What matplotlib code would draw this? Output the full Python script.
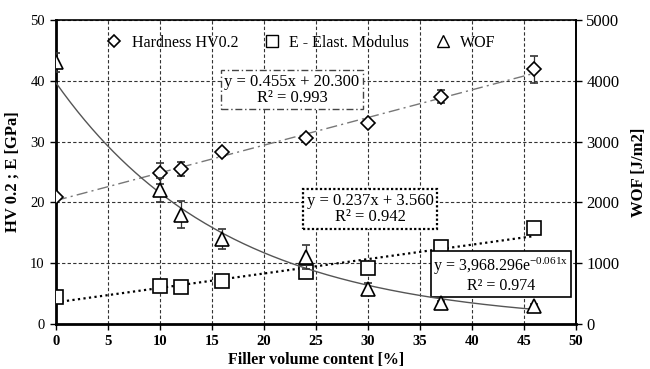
import numpy as np
import matplotlib
matplotlib.use("Agg")
import matplotlib.pyplot as plt
from matplotlib.lines import Line2D

plt.rcParams['font.family'] = ['Liberation Serif', 'DejaVu Serif']
plt.rcParams['mathtext.fontset'] = 'custom'
plt.rcParams['mathtext.rm'] = 'Liberation Serif'
plt.rcParams['mathtext.it'] = 'Liberation Serif'
plt.rcParams['font.size'] = 12

# Filler volume content [%]
filler = [0, 10, 12, 16, 24, 30, 37, 46]

# Hardness HV0.2 with error
hardness = [20.8, 24.8, 25.5, 28.2, 30.6, 33.1, 37.4, 41.9]
hardness_err = [0.3, 1.7, 1.2, 0.6, 0.5, 0.5, 1.0, 2.2]

# E - Elastic modulus [GPa] with error
modulus = [4.5, 6.2, 6.1, 7.0, 8.6, 9.2, 12.6, 15.8]
modulus_err = [0.3, 0.5, 0.5, 0.4, 0.6, 0.5, 0.5, 0.4]

# Work of fracture [J/m2] with error
wof = [4300, 2200, 1800, 1400, 1100, 580, 340, 300]
wof_err = [150, 200, 220, 170, 200, 90, 40, 30]

# Trend line coefficients
hv_slope, hv_icpt = 0.455, 20.300
e_slope, e_icpt = 0.237, 3.560
wof_a, wof_b = 3968.296, -0.061

fig = plt.figure(figsize=(6.5, 3.69), dpi=100)
ax = fig.add_axes([0.086, 0.122, 0.8, 0.824])
ax2 = ax.twinx()

ax.set_xlim(0, 50)
ax.set_ylim(0, 50)
ax2.set_ylim(0, 5000)

ax.set_xticks(np.arange(0, 51, 5))
ax.set_yticks(np.arange(0, 51, 10))
ax2.set_yticks(np.arange(0, 5001, 1000))

ax.grid(True, which='major', color='#333333', linestyle=(0, (3, 2)), linewidth=0.8)
ax.set_axisbelow(True)

# Trend lines
xs = np.linspace(0, 46, 200)
ax.plot(xs, hv_slope * xs + hv_icpt, color='#777777', lw=1.0,
        linestyle=(0, (8, 3, 1.5, 3)), zorder=2)
ax.plot(xs, e_slope * xs + e_icpt, color='black', lw=1.6,
        linestyle=(0, (1, 1.5)), zorder=2)
ax2.plot(xs, wof_a * np.exp(wof_b * xs), color='#555555', lw=1.0, zorder=2)

mk = dict(markerfacecolor='white', markeredgecolor='black', markeredgewidth=1.2,
          linestyle='none', ecolor='#333333', elinewidth=0.9, capsize=3, capthick=0.9)
ax.errorbar(filler, hardness, yerr=hardness_err, marker='D', markersize=7, zorder=4, **mk)
ax.errorbar(filler, modulus, yerr=modulus_err, marker='s', markersize=9.5, zorder=4, **mk)
ax2.errorbar(filler, wof, yerr=wof_err, marker='^', markersize=10, zorder=4, **mk)

# Spines
for side in ('left', 'bottom'):
    ax.spines[side].set_linewidth(2.0)
for side in ('top', 'right'):
    ax.spines[side].set_linewidth(1.2)
ax2.spines['right'].set_linewidth(1.2)
ax2.spines['left'].set_visible(False)
ax2.spines['bottom'].set_visible(False)
ax2.spines['top'].set_visible(False)

ax.tick_params(axis='both', direction='out', length=4, width=1.0, labelsize=10.5, pad=4)
ax2.tick_params(axis='y', direction='out', length=4, width=1.0, labelsize=12)
for lab in ax.get_xticklabels():
    lab.set_fontweight('bold')

ax.set_xlabel('Filler volume content [%]', fontweight='bold', fontsize=11.5, labelpad=3)
ax.set_ylabel('HV 0.2 ; E [GPa]', fontweight='bold', fontsize=12, labelpad=7)
ax2.set_ylabel('WOF [J/m2]', fontweight='bold', fontsize=12, labelpad=8)

# Equation boxes
ax.text(22.7, 38.5, 'y = 0.455x + 20.300\nR² = 0.993', ha='center', va='center',
        multialignment='center', fontsize=12, linespacing=1.05, zorder=5,
        bbox=dict(boxstyle='square,pad=0.2', facecolor='white', edgecolor='#444444',
                  linestyle=(0, (5, 2, 1, 2)), linewidth=1.0))
ax.text(30.2, 18.9, 'y = 0.237x + 3.560\nR² = 0.942', ha='center', va='center',
        multialignment='center', fontsize=12, linespacing=1.05, zorder=5,
        bbox=dict(boxstyle='square,pad=0.2', facecolor='white', edgecolor='black',
                  linestyle=(0, (1, 1)), linewidth=1.6))
ax.text(42.8, 8.1, 'y = 3,968.296e$^{\\mathrm{-0.061x}}$\nR² = 0.974', ha='center', va='center',
        multialignment='center', fontsize=11.5, linespacing=1.05, zorder=5,
        bbox=dict(boxstyle='square,pad=0.18', facecolor='white', edgecolor='black',
                  linewidth=1.2))

# Legend
handles = [
    Line2D([], [], marker='D', markersize=6, markerfacecolor='white', markeredgecolor='black',
           markeredgewidth=1.2, linestyle='none', label='Hardness HV0.2'),
    Line2D([], [], marker='s', markersize=8, markerfacecolor='white', markeredgecolor='black',
           markeredgewidth=1.0, linestyle='none', label='E - Elast. Modulus'),
    Line2D([], [], marker='^', markersize=8, markerfacecolor='white', markeredgecolor='black',
           markeredgewidth=1.0, linestyle='none', label='WOF'),
]
leg = ax2.legend(handles=handles, loc='center', bbox_to_anchor=(0.471, 0.924), ncol=3,
                 frameon=False, fontsize=11.5, handlelength=1.0, handletextpad=0.6,
                 columnspacing=1.6)

fig.savefig('out.png', dpi=100)
